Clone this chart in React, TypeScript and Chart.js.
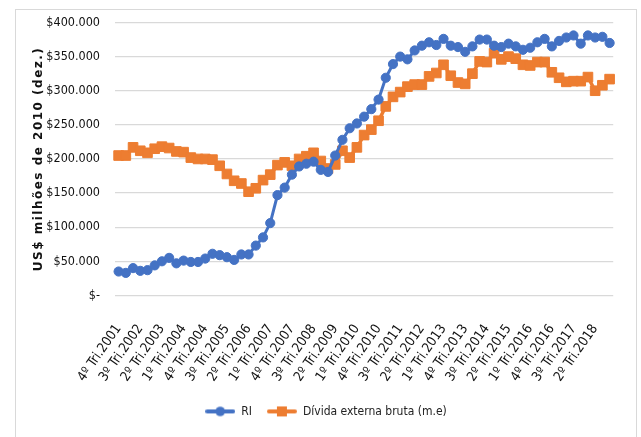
import React, { useEffect, useRef } from "react";
import { Chart, registerables } from "chart.js";

Chart.register(...registerables);

const quarterLabels = [
  "4º Tri.2001",
  "1º Tri.2002", "2º Tri.2002", "3º Tri.2002", "4º Tri.2002",
  "1º Tri.2003", "2º Tri.2003", "3º Tri.2003", "4º Tri.2003",
  "1º Tri.2004", "2º Tri.2004", "3º Tri.2004", "4º Tri.2004",
  "1º Tri.2005", "2º Tri.2005", "3º Tri.2005", "4º Tri.2005",
  "1º Tri.2006", "2º Tri.2006", "3º Tri.2006", "4º Tri.2006",
  "1º Tri.2007", "2º Tri.2007", "3º Tri.2007", "4º Tri.2007",
  "1º Tri.2008", "2º Tri.2008", "3º Tri.2008", "4º Tri.2008",
  "1º Tri.2009", "2º Tri.2009", "3º Tri.2009", "4º Tri.2009",
  "1º Tri.2010", "2º Tri.2010", "3º Tri.2010", "4º Tri.2010",
  "1º Tri.2011", "2º Tri.2011", "3º Tri.2011", "4º Tri.2011",
  "1º Tri.2012", "2º Tri.2012", "3º Tri.2012", "4º Tri.2012",
  "1º Tri.2013", "2º Tri.2013", "3º Tri.2013", "4º Tri.2013",
  "1º Tri.2014", "2º Tri.2014", "3º Tri.2014", "4º Tri.2014",
  "1º Tri.2015", "2º Tri.2015", "3º Tri.2015", "4º Tri.2015",
  "1º Tri.2016", "2º Tri.2016", "3º Tri.2016", "4º Tri.2016",
  "1º Tri.2017", "2º Tri.2017", "3º Tri.2017", "4º Tri.2017",
  "1º Tri.2018", "2º Tri.2018", "3º Tri.2018", "4º Tri.2018",
];

// RI (US$ milhões de 2010)
const riValues = [
  35000, 33000, 40000, 36000, 37000, 44000, 50000, 55000, 47000, 51000,
  49000, 49000, 54000, 61000, 59000, 56000, 52000, 60000, 60000, 73000,
  85000, 106000, 147000, 158000, 177000, 189000, 193000, 196000, 184000, 181000,
  205000, 228000, 245000, 252000, 262000, 273000, 287000, 319000, 339000, 350000,
  346000, 359000, 366000, 371000, 367000, 376000, 366000, 364000, 357000, 365000,
  375000, 375000, 366000, 364000, 369000, 365000, 360000, 363000, 371000, 376000,
  365000, 373000, 378000, 381000, 369000, 381000, 378000, 379000, 370000,
];

// Dívida externa bruta (m.e)
const dividaValues = [
  205000, 205000, 217000, 212000, 209000, 215000, 218000, 216000, 211000, 210000,
  202000, 200000, 200000, 199000, 190000, 178000, 168000, 164000, 152000, 157000,
  169000, 177000, 191000, 195000, 190000, 200000, 204000, 209000, 197000, 186000,
  192000, 212000, 202000, 217000, 235000, 243000, 256000, 277000, 291000, 298000,
  306000, 309000, 309000, 321000, 326000, 338000, 322000, 312000, 310000, 325000,
  343000, 342000, 355000, 346000, 350000, 347000, 338000, 337000, 342000, 342000,
  327000, 319000, 313000, 314000, 314000, 320000, 300000, 308000, 317000,
];

const seriesNames = ["RI", "Dívida externa bruta (m.e)"];
const yAxisTitle = "US$ milhões de 2010 (dez.)";
const BLUE = "#4472C4";
const ORANGE = "#ED7D31";

const narrow = '"DejaVu Sans Condensed", "Liberation Sans", sans-serif';

function makeLegendIcon(color: string, kind: "circle" | "rect") {
  const c = document.createElement("canvas");
  c.width = 30;
  c.height = 12;
  const ctx = c.getContext("2d")!;
  ctx.strokeStyle = color;
  ctx.lineWidth = 4;
  ctx.lineCap = "round";
  ctx.beginPath();
  ctx.moveTo(2, 6);
  ctx.lineTo(28, 6);
  ctx.stroke();
  ctx.fillStyle = color;
  if (kind === "circle") {
    ctx.beginPath();
    ctx.arc(15, 6, 4.8, 0, Math.PI * 2);
    ctx.fill();
  } else {
    ctx.fillRect(10, 1, 10, 10);
  }
  return c;
}

const yTitlePlugin = {
  id: "yTitleSpaced",
  afterDraw(chart: any) {
    const { ctx, chartArea } = chart;
    ctx.save();
    ctx.translate(39, (chartArea.top + chartArea.bottom) / 2);
    ctx.rotate(-Math.PI / 2);
    ctx.font = 'bold 12px "DejaVu Sans", sans-serif';
    try {
      (ctx as any).letterSpacing = "1.5px";
    } catch (e) {}
    ctx.fillStyle = "#111";
    ctx.textAlign = "center";
    ctx.textBaseline = "middle";
    ctx.fillText(yAxisTitle, 0, 0);
    ctx.restore();
  },
};

export default function App() {
  const ref = useRef<HTMLCanvasElement | null>(null);

  useEffect(() => {
    if (!ref.current) return;
    const icons = [makeLegendIcon(BLUE, "circle"), makeLegendIcon(ORANGE, "rect")];
    const chart = new Chart(ref.current, {
      type: "line",
      data: {
        labels: quarterLabels,
        datasets: [
          {
            label: seriesNames[0],
            data: riValues,
            borderColor: BLUE,
            backgroundColor: BLUE,
            borderWidth: 3,
            pointStyle: "circle",
            pointRadius: 4.6,
            pointBackgroundColor: BLUE,
            pointBorderColor: BLUE,
            pointBorderWidth: 1,
            tension: 0,
          },
          {
            label: seriesNames[1],
            data: dividaValues,
            borderColor: ORANGE,
            backgroundColor: ORANGE,
            borderWidth: 3.5,
            pointStyle: "rect",
            pointRadius: 6.8,
            pointBackgroundColor: ORANGE,
            pointBorderColor: ORANGE,
            pointBorderWidth: 1,
            tension: 0,
          },
        ],
      },
      plugins: [yTitlePlugin],
      options: {
        responsive: false,
        animation: false,
        layout: { padding: { left: 28, right: 17, top: 22.5, bottom: 9.6 } },
        plugins: {
          tooltip: { enabled: false },
          legend: {
            position: "bottom",
            labels: {
              usePointStyle: true,
              pointStyleWidth: 30,
              padding: 15,
              color: "#222",
              font: { family: narrow, size: 12 },
              generateLabels: (ch: any) => {
                const base = Chart.defaults.plugins.legend.labels.generateLabels(ch);
                return base.map((it: any, i: number) => ({ ...it, pointStyle: icons[i] }));
              },
            },
          },
        },
        scales: {
          x: {
            offset: true,
            grid: { display: false },
            border: { display: false },
            afterFit: (s: any) => {
              s.height = 95;
            },
            ticks: {
              autoSkip: false,
              minRotation: 55,
              maxRotation: 55,
              padding: 18,
              color: "#111",
              font: { family: narrow, size: 13.5 },
              callback: (_v: any, i: number) => (i % 3 === 0 ? quarterLabels[i] : ""),
            },
          },
          y: {
            min: 0,
            max: 400000,
            border: { display: false },
            grid: { color: "#d9d9d9", lineWidth: 1.3, drawTicks: false },
            afterFit: (s: any) => {
              s.width = 87;
            },
            ticks: {
              stepSize: 50000,
              padding: 15,
              color: "#111",
              font: { family: narrow, size: 12.5 },
              callback: (v: any) => (v === 0 ? "$-" : "$" + v / 1000 + ".000"),
            },
          },
        },
      },
    });
    return () => chart.destroy();
  }, []);

  return (
    <div style={{ position: "absolute", left: 0, top: 0, width: 641, height: 437, background: "#fff", overflow: "hidden" }}>
      <div
        style={{
          position: "absolute",
          left: 15,
          top: 9,
          width: 622,
          height: 440,
          border: "1px solid #d9d9d9",
          boxSizing: "border-box",
        }}
      />
      <canvas ref={ref} width={641} height={437} style={{ position: "absolute", left: 0, top: 0, width: 641, height: 437 }} />
    </div>
  );
}
